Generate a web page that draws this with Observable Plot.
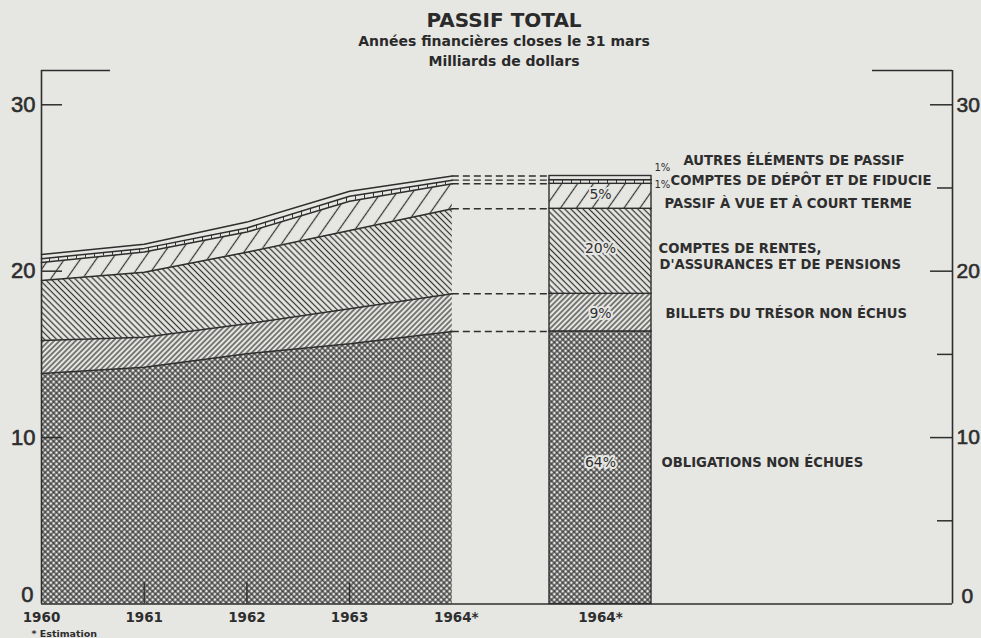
<!DOCTYPE html>
<html><head><meta charset="utf-8">
<script src="https://cdn.jsdelivr.net/npm/d3@7"></script>
<script src="https://cdn.jsdelivr.net/npm/@observablehq/plot@0.6"></script>
<style>
html,body{margin:0;padding:0;background:#e6e6e3;}
#wrap{position:relative;width:981px;height:638px;overflow:hidden;background:#e6e6e3;}
.t{position:absolute;left:0;width:1008px;text-align:center;font-family:"DejaVu Sans",sans-serif;font-weight:bold;color:#2a2a2a;white-space:nowrap;}
#chart{position:absolute;left:0;top:0;}
</style></head><body>
<svg width="0" height="0" style="position:absolute"><defs>
<pattern id="pCross" patternUnits="userSpaceOnUse" width="4" height="4" patternTransform="rotate(45)">
<rect width="4" height="4" fill="#e6e6e3"/>
<path d="M0,2H4M2,0V4" stroke="#333" stroke-width="1.25"/>
</pattern>
<pattern id="pBillets" patternUnits="userSpaceOnUse" width="3.8" height="10" patternTransform="rotate(45)">
<rect width="3.8" height="10" fill="#e6e6e3"/>
<line x1="1.9" y1="0" x2="1.9" y2="10" stroke="#333" stroke-width="1.2"/>
</pattern>
<pattern id="pRentes" patternUnits="userSpaceOnUse" width="4.3" height="10" patternTransform="rotate(-45)">
<rect width="4.3" height="10" fill="#e6e6e3"/>
<line x1="2.15" y1="0" x2="2.15" y2="10" stroke="#333" stroke-width="1.25"/>
</pattern>
<pattern id="pVue" patternUnits="userSpaceOnUse" width="13" height="10" patternTransform="rotate(35)">
<rect width="13" height="10" fill="#e6e6e3"/>
<line x1="6.5" y1="0" x2="6.5" y2="10" stroke="#333" stroke-width="1.2"/>
</pattern>
<pattern id="pDepot" patternUnits="userSpaceOnUse" width="9" height="10">
<rect width="9" height="10" fill="#e6e6e3"/>
<line x1="4.5" y1="0" x2="4.5" y2="10" stroke="#333" stroke-width="1"/>
</pattern>
<pattern id="pAutres" patternUnits="userSpaceOnUse" width="10" height="10">
<rect width="10" height="10" fill="#e6e6e3"/>
</pattern>
</defs></svg>
<div id="wrap">
<div class="t" style="top:9px;font-size:20px;line-height:23px;">PASSIF TOTAL</div>
<div class="t" style="top:33px;font-size:14px;line-height:17px;">Années financières closes le 31 mars</div>
<div class="t" style="top:53px;font-size:14px;line-height:17px;">Milliards de dollars</div>
<div id="chart"></div>
</div>
<script>
// ---------- data ----------
const years = [1960, 1961, 1962, 1963, 1964];
const series = [
  "OBLIGATIONS NON ÉCHUES",
  "BILLETS DU TRÉSOR NON ÉCHUS",
  "COMPTES DE RENTES, D'ASSURANCES ET DE PENSIONS",
  "PASSIF À VUE ET À COURT TERME",
  "COMPTES DE DÉPÔT ET DE FIDUCIE",
  "AUTRES ÉLÉMENTS DE PASSIF"
];
const obligations = [13.85, 14.23, 15.04, 15.64, 16.38];
const billets     = [1.99, 1.80, 1.80, 2.10, 2.26];
const rentes      = [3.60, 3.91, 4.30, 4.71, 5.11];
const passifVue   = [1.08, 1.21, 1.21, 1.75, 1.50];
const depot       = [0.23, 0.22, 0.25, 0.30, 0.22];
const autres      = [0.25, 0.25, 0.35, 0.30, 0.25];
const pct1964 = ["64%", "9%", "20%", "5%", "1%", "1%"];
const yTicks = [30, 20, 10];
const yMinorTicks = [25, 15, 5];
const yearLabels = ["1960", "1961", "1962", "1963", "1964*"];
const barLabel = "1964*";
const seriesLabelLines = [
  "AUTRES ÉLÉMENTS DE PASSIF",
  "COMPTES DE DÉPÔT ET DE FIDUCIE",
  "PASSIF À VUE ET À COURT TERME",
  "COMPTES DE RENTES,",
  "D'ASSURANCES ET DE PENSIONS",
  "BILLETS DU TRÉSOR NON ÉCHUS",
  "OBLIGATIONS NON ÉCHUES"
];
const footnote = "* Estimation";

// ---------- layout ----------
const X0 = 1960, X1 = 1968.87, YTOP = 32.06;
const pxPerYear = (952 - 41) / (X1 - X0);
const xAt = px => X0 + (px - 41) / pxPerYear;
const barX1 = xAt(549), barX2 = xAt(651), barMid = (barX1 + barX2) / 2;
const patterns = ["url(#pCross)", "url(#pBillets)", "url(#pRentes)", "url(#pVue)", "url(#pDepot)", "url(#pAutres)"];
const seriesLabelPos = [ // [x px start, y value]
  [683, 26.62], [670, 25.45], [664, 24.07], [658, 21.36], [659, 20.40], [665, 17.46], [661, 8.50]
];
const pctPos = [
  [barMid, 8.50], [barMid, 17.46], [barMid, 21.36], [barMid, 24.60], [xAt(654), 26.22], [xAt(654), 25.22]
];
const INK = "#2e2e2e", PAPER = "#e6e6e3";
const NUMFONT = "Liberation Sans, sans-serif";
const numStyle = {fontFamily: NUMFONT, fill: INK, stroke: INK, strokeWidth: 0.6};

const valuesBySeries = [obligations, billets, rentes, passifVue, depot, autres];
const rows = [];
years.forEach((yr, j) => series.forEach((s, i) => rows.push({year: yr, series: s, value: valuesBySeries[i][j]})));
const rows1964 = rows.filter(d => d.year === 1964);
const tops1964 = d3.cumsum(rows1964.map(d => d.value));

const chart = Plot.plot({
  width: 981, height: 638,
  marginLeft: 41, marginRight: 29, marginTop: 70, marginBottom: 34.5,
  x: {domain: [X0, X1], axis: null},
  y: {domain: [0, YTOP], axis: null},
  color: {type: "ordinal", domain: series, range: patterns},
  style: {background: "transparent", overflow: "visible", fontFamily: "DejaVu Sans, sans-serif"},
  marks: [
    Plot.areaY(rows, {x: "year", y: "value", z: "series", fill: "series"}),
    Plot.lineY(rows, Plot.stackY2({x: "year", y: "value", z: "series", stroke: INK, strokeWidth: 1.5})),
    Plot.rectY(rows1964, {x1: () => barX1, x2: () => barX2, y: "value", fill: "series", stroke: INK, strokeWidth: 1.4}),
    Plot.ruleY(tops1964, {y: d => d, x1: () => 1964, x2: () => barX1, stroke: INK, strokeWidth: 1.4, strokeDasharray: "7,4"}),
    // frame / axes
    Plot.ruleY([0], {x1: () => X0, x2: () => X1, stroke: INK, strokeWidth: 1.6}),
    Plot.ruleX([X0, X1], {y1: () => 0, y2: () => YTOP, stroke: INK, strokeWidth: 1.6}),
    Plot.ruleY([YTOP], {x1: () => X0, x2: () => xAt(110), stroke: INK, strokeWidth: 1.6}),
    Plot.ruleY([YTOP], {x1: () => xAt(872), x2: () => X1, stroke: INK, strokeWidth: 1.6}),
    Plot.ruleY(yTicks, {x1: () => X0, x2: () => xAt(62), stroke: INK, strokeWidth: 1.5}),
    Plot.ruleY(yTicks, {x1: () => xAt(930), x2: () => X1, stroke: INK, strokeWidth: 1.5}),
    Plot.ruleY(yMinorTicks, {x1: () => xAt(937), x2: () => X1, stroke: INK, strokeWidth: 1.5}),
    Plot.ruleX([1961, 1962, 1963], {y1: () => 0, y2: () => 1.26, stroke: INK, strokeWidth: 1.4}),
    // y labels
    Plot.text(yTicks, {x: () => X0, y: d => d, text: d => String(d), textAnchor: "end", dx: -6, fontSize: 22, ...numStyle}),
    Plot.text([0], {x: () => X0, y: d => d, text: d => String(d), textAnchor: "end", dx: -8, dy: -9, fontSize: 22, ...numStyle}),
    Plot.text(yTicks, {x: () => X1, y: d => d, text: d => String(d), textAnchor: "start", dx: 4, fontSize: 21, ...numStyle}),
    Plot.text([0], {x: () => X1, y: d => d, text: d => String(d), textAnchor: "start", dx: 9, dy: -8, fontSize: 21, ...numStyle}),
    // x labels
    Plot.text(yearLabels.slice(0, 4), {x: (d, i) => years[i], y: () => 0, text: d => d, dy: 14, fontSize: 13.5, fontWeight: "bold", fill: INK}),
    Plot.text(yearLabels.slice(4), {x: () => years[4], y: () => 0, text: d => d, dy: 14, dx: 4, fontSize: 13.5, fontWeight: "bold", fill: INK}),
    Plot.text([barLabel], {x: () => barMid, y: () => 0, text: d => d, dy: 14, fontSize: 13.5, fontWeight: "bold", fill: INK}),
    Plot.text([footnote], {x: () => xAt(31), y: () => 0, text: d => d, dy: 30, textAnchor: "start", fontSize: 9.5, fontWeight: "bold", fill: INK}),
    // series labels
    Plot.text(seriesLabelLines, {x: (d, i) => xAt(seriesLabelPos[i][0]), y: (d, i) => seriesLabelPos[i][1], text: d => d, textAnchor: "start", fontSize: 13.2, fontWeight: "bold", fill: INK}),
    // percentage labels
    Plot.text(pct1964.slice(0, 4), {x: (d, i) => pctPos[i][0], y: (d, i) => pctPos[i][1], text: d => d, fontSize: 14, fill: INK, stroke: PAPER, strokeWidth: 4}),
    Plot.text(pct1964.slice(4), {x: (d, i) => pctPos[i + 4][0], y: (d, i) => pctPos[i + 4][1], text: d => d, textAnchor: "start", fontSize: 10, fill: INK})
  ]
});
document.getElementById("chart").appendChild(chart);
</script>
</body></html>
